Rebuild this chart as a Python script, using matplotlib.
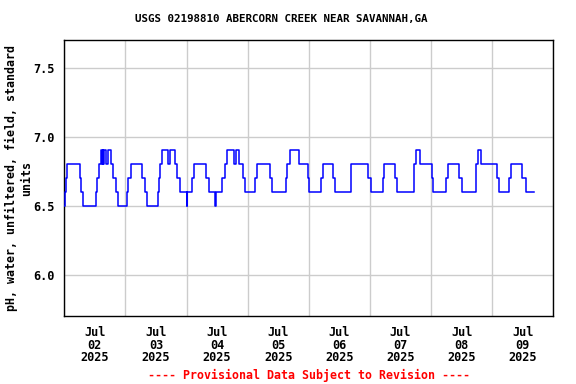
import matplotlib
matplotlib.use("Agg")
import matplotlib.pyplot as plt
import matplotlib.dates as mdates
from matplotlib.ticker import NullFormatter, FixedLocator
import pandas as pd

# Change points: hours after 2025-07-02 00:00 and pH value (step series)
hours = [0.0, 0.25, 0.75, 1.25, 6.0, 6.75, 7.5, 12.5, 13.0, 13.5,
         14.5, 14.75, 15.0, 15.25, 15.75, 16.5, 17.25, 18.5, 19.25, 20.25,
         21.25, 24.5, 25.0, 26.0, 30.5, 31.75, 32.5, 36.75, 37.25, 37.75,
         38.5, 40.75, 41.5, 43.5, 44.25, 45.25, 48.0, 48.25, 50.0, 51.0,
         55.5, 56.75, 59.25, 59.5, 62.0, 63.0, 64.0, 66.5, 67.25, 68.75,
         70.0, 71.0, 75.0, 75.75, 80.75, 81.5, 87.0, 87.5, 88.5, 92.0,
         95.5, 96.25, 100.75, 101.5, 105.5, 106.25, 112.5, 112.75, 119.25, 120.25,
         125.25, 125.5, 129.75, 130.5, 137.5, 138.0, 139.75, 144.25, 144.75, 150.0,
         150.5, 155.0, 156.0, 161.75, 162.25, 163.75, 169.75, 170.5, 174.75, 175.25,
         179.75, 181.25, 184.25]
ph = [6.5, 6.6, 6.7, 6.8, 6.7, 6.6, 6.5, 6.6, 6.7, 6.8,
      6.9, 6.8, 6.9, 6.8, 6.9, 6.8, 6.9, 6.8, 6.7, 6.6,
      6.5, 6.6, 6.7, 6.8, 6.7, 6.6, 6.5, 6.6, 6.7, 6.8,
      6.9, 6.8, 6.9, 6.8, 6.7, 6.6, 6.5, 6.6, 6.7, 6.8,
      6.7, 6.6, 6.5, 6.6, 6.7, 6.8, 6.9, 6.8, 6.9, 6.8,
      6.7, 6.6, 6.7, 6.8, 6.7, 6.6, 6.7, 6.8, 6.9, 6.8,
      6.7, 6.6, 6.7, 6.8, 6.7, 6.6, 6.7, 6.8, 6.7, 6.6,
      6.7, 6.8, 6.7, 6.6, 6.8, 6.9, 6.8, 6.7, 6.6, 6.7,
      6.8, 6.7, 6.6, 6.8, 6.9, 6.8, 6.7, 6.6, 6.7, 6.8,
      6.7, 6.6, 6.6]

y_ticks = [6.0, 6.5, 7.0, 7.5]
y_tick_labels = ["6.0", "6.5", "7.0", "7.5"]
title = "USGS 02198810 ABERCORN CREEK NEAR SAVANNAH,GA"
ylabel = "pH, water, unfiltered, field, standard\nunits"
footer = "---- Provisional Data Subject to Revision ----"

start = pd.Timestamp("2025-07-02")
times = start + pd.to_timedelta(hours, unit="h")

FONT = "DejaVu Sans Mono"

fig = plt.figure(figsize=(5.76, 3.84), dpi=100)
ax = fig.add_axes([64.3 / 576, 1 - 316 / 384, 489 / 576, 276 / 384])

ax.step(times, ph, where="post", color="#0000ff", linewidth=1.1, zorder=3)

ax.set_xlim(pd.Timestamp("2025-07-02"), pd.Timestamp("2025-07-10"))
ax.set_ylim(5.7, 7.7)

ax.xaxis.set_major_locator(mdates.DayLocator())
ax.xaxis.set_major_formatter(NullFormatter())
ax.xaxis.set_minor_locator(mdates.HourLocator(byhour=[12]))
ax.xaxis.set_minor_formatter(mdates.DateFormatter("%b\n%d\n%Y"))
ax.tick_params(axis="x", which="both", length=0, pad=7)
ax.grid(True, which="major", axis="both", color="#cccccc", linewidth=1.0, zorder=0)

ax.yaxis.set_major_locator(FixedLocator(y_ticks))
ax.set_yticklabels(y_tick_labels)
ax.tick_params(axis="y", length=0, pad=7)

for lab in ax.get_xticklabels(which="minor"):
    lab.set_fontfamily(FONT)
    lab.set_fontweight("bold")
    lab.set_fontsize(8.6)
    lab.set_linespacing(0.98)
for lab in ax.get_yticklabels():
    lab.set_fontfamily(FONT)
    lab.set_fontweight("bold")
    lab.set_fontsize(8.6)

for s in ax.spines.values():
    s.set_color("black")
    s.set_linewidth(1.0)

fig.text(281 / 576, 1 - 19 / 384, title, ha="center", va="center",
         fontfamily=FONT, fontweight="bold", fontsize=7.8)
fig.text(19 / 576, 1 - 178 / 384, ylabel, ha="center", va="center",
         rotation=90, fontfamily=FONT, fontweight="bold", fontsize=8.4,
         multialignment="center", linespacing=1.15)
fig.text(308.8 / 576, 1 - 375 / 384, footer, ha="center", va="center",
         color="red", fontfamily=FONT, fontweight="bold", fontsize=8.4)

fig.savefig("out.png", dpi=100)
